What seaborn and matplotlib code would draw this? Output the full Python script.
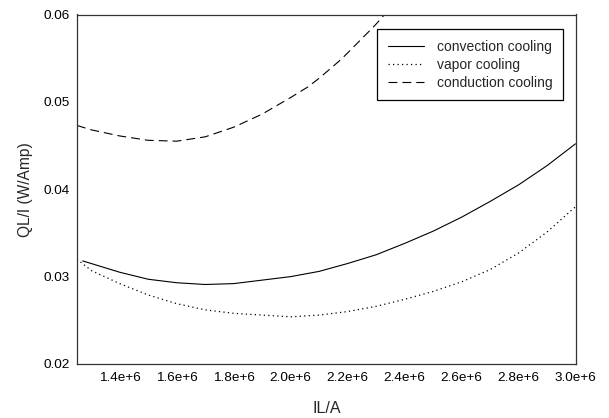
import numpy as np
import pandas as pd
import matplotlib
matplotlib.use("Agg")
import matplotlib.pyplot as plt
import seaborn as sns

# values
conv_x = [1.27e6, 1.3e6, 1.4e6, 1.5e6, 1.6e6, 1.7e6, 1.8e6, 1.9e6, 2.0e6, 2.1e6,
          2.2e6, 2.3e6, 2.4e6, 2.5e6, 2.6e6, 2.7e6, 2.8e6, 2.9e6, 3.0e6]
conv_y = [0.0318, 0.0315, 0.0305, 0.0297, 0.0293, 0.0291, 0.0292, 0.0296, 0.0300, 0.0306,
          0.0315, 0.0325, 0.0338, 0.0352, 0.0368, 0.0386, 0.0405, 0.0427, 0.0452]

vapor_x = [1.25e6, 1.3e6, 1.4e6, 1.5e6, 1.6e6, 1.7e6, 1.8e6, 1.9e6, 2.0e6, 2.1e6,
           2.2e6, 2.3e6, 2.4e6, 2.5e6, 2.6e6, 2.7e6, 2.8e6, 2.9e6, 3.0e6]
vapor_y = [0.0320, 0.0307, 0.0292, 0.0279, 0.0269, 0.0262, 0.0258, 0.0256, 0.0254, 0.0256,
           0.0260, 0.0266, 0.0274, 0.0283, 0.0294, 0.0308, 0.0327, 0.0351, 0.0380]

cond_x = [1.25e6, 1.3e6, 1.4e6, 1.5e6, 1.6e6, 1.7e6, 1.8e6, 1.9e6, 2.0e6, 2.06e6, 2.1e6,
          2.175e6, 2.2e6, 2.27e6, 2.3e6, 2.33e6]
cond_y = [0.0473, 0.0468, 0.0461, 0.0456, 0.0455, 0.0460, 0.0471, 0.0486, 0.0505, 0.0517, 0.0527,
          0.0548, 0.0556, 0.0579, 0.0589, 0.0600]

xticks = [1.4e6, 1.6e6, 1.8e6, 2.0e6, 2.2e6, 2.4e6, 2.6e6, 2.8e6, 3.0e6]
xtick_labels = ["1.4e+6", "1.6e+6", "1.8e+6", "2.0e+6", "2.2e+6",
                "2.4e+6", "2.6e+6", "2.8e+6", "3.0e+6"]
yticks = [0.02, 0.03, 0.04, 0.05, 0.06]
ytick_labels = ["0.02", "0.03", "0.04", "0.05", "0.06"]

sns.set_theme(style="white")
plt.rcParams['font.family'] = ['Liberation Sans', 'DejaVu Sans']

fig = plt.figure(figsize=(6.09, 4.18), dpi=100)
ax = fig.add_axes([77 / 609, 54 / 418, 498.5 / 609, 349.5 / 418])

sns.lineplot(x=conv_x, y=conv_y, ax=ax, color="black", lw=0.8,
             errorbar=None, label="convection cooling")
sns.lineplot(x=vapor_x, y=vapor_y, ax=ax, color="black", lw=0.9,
             linestyle=(0, (1, 2.6)), errorbar=None, label="vapor cooling")
sns.lineplot(x=cond_x, y=cond_y, ax=ax, color="black", lw=0.8,
             linestyle=(0, (8, 4.5)), errorbar=None, label="conduction cooling")

ax.set_xlim(1.25e6, 3.0e6)
ax.set_ylim(0.02, 0.06)
ax.set_xticks(xticks)
ax.set_xticklabels(xtick_labels)
ax.set_yticks(yticks)
ax.set_yticklabels(ytick_labels)

ax.tick_params(direction="in", length=4, width=0.8, color="#222222",
               labelsize=9.7, labelcolor="black")
ax.tick_params(axis="x", pad=6)
ax.tick_params(axis="y", pad=5)
for s in ax.spines.values():
    s.set_visible(True)
    s.set_color("#333333")
    s.set_linewidth(0.9)

ax.set_xlabel("IL/A", fontsize=11.5, labelpad=12)
ax.set_ylabel("QL/I (W/Amp)", fontsize=11.2, labelpad=8)

leg = ax.legend(loc="upper right", bbox_to_anchor=(0.975, 0.958), borderaxespad=0,
                fontsize=10, frameon=True, fancybox=False, framealpha=1,
                edgecolor="black", handlelength=2.65, handletextpad=0.9,
                labelspacing=0.3, borderpad=0.75)
leg.get_frame().set_linewidth(0.9)

fig.savefig("out.png", dpi=100)
